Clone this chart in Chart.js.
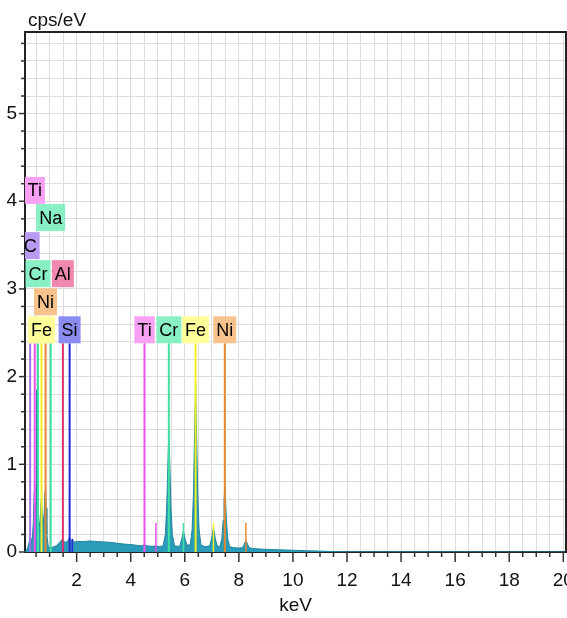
<!DOCTYPE html>
<html>
<head>
<meta charset="utf-8">
<script src="https://cdn.jsdelivr.net/npm/chart.js@4.4.0/dist/chart.umd.min.js"></script>
<style>
  html, body { margin: 0; padding: 0; background: #fff; }
  #wrap { width: 567px; height: 618px; }
</style>
</head>
<body>
<div id="wrap"><canvas id="spektrum"></canvas></div>
<script>
// === DATA SPEKTRUM EDS ===
const energiKeV = [
  0.09, 0.15, 0.20, 0.25, 0.28, 0.31, 0.36, 0.40, 0.43, 0.45, 0.47, 0.50, 0.52, 0.54, 0.57,
  0.60, 0.64, 0.68, 0.70, 0.72, 0.76, 0.80, 0.83, 0.85, 0.87, 0.90, 0.95, 1.00, 1.04, 1.08,
  1.15, 1.25, 1.35, 1.45, 1.50, 1.58, 1.66, 1.74, 1.80, 1.85, 1.92, 2.00, 2.25, 2.50, 2.75,
  3.00, 3.25, 3.50, 3.75, 4.00, 4.25, 4.42, 4.51, 4.60, 4.80, 4.93, 5.05, 5.20, 5.28, 5.33,
  5.37, 5.41, 5.45, 5.49, 5.54, 5.62, 5.75, 5.82, 5.88, 5.95, 6.02, 6.08, 6.20, 6.27, 6.32,
  6.36, 6.40, 6.44, 6.48, 6.53, 6.60, 6.75, 6.92, 6.99, 7.06, 7.13, 7.20, 7.30, 7.37, 7.42,
  7.45, 7.48, 7.51, 7.54, 7.59, 7.66, 7.80, 8.00, 8.14, 8.20, 8.26, 8.32, 8.38, 8.50, 8.75,
  9.00, 9.50, 10.00, 10.50, 11.00, 11.50, 12.00, 14.00, 20.10
];
const intensitasCps = [
  0.00, 0.02, 0.06, 0.12, 0.16, 0.10, 0.15, 0.35, 0.70, 0.78, 0.45, 0.55, 1.85, 0.60, 0.50,
  0.35, 0.30, 0.55, 0.62, 0.45, 0.30, 0.45, 0.70, 0.75, 0.50, 0.20, 0.06, 0.05, 0.07, 0.05,
  0.06, 0.07, 0.10, 0.14, 0.13, 0.11, 0.12, 0.17, 0.12, 0.14, 0.11, 0.12, 0.12, 0.125, 0.12,
  0.115, 0.11, 0.10, 0.09, 0.085, 0.075, 0.07, 0.085, 0.07, 0.065, 0.07, 0.06, 0.07, 0.20, 0.50,
  0.95, 1.38, 0.95, 0.50, 0.20, 0.07, 0.065, 0.07, 0.14, 0.24, 0.14, 0.08, 0.08, 0.25, 0.65,
  1.30, 1.92, 1.30, 0.65, 0.25, 0.08, 0.06, 0.07, 0.15, 0.28, 0.15, 0.07, 0.06, 0.15, 0.36,
  0.58, 0.74, 0.58, 0.36, 0.15, 0.06, 0.05, 0.045, 0.05, 0.09, 0.13, 0.09, 0.05, 0.04, 0.035,
  0.03, 0.025, 0.02, 0.015, 0.01, 0.005, 0.003, 0.002, 0.00
];

// garis elemen utama + posisi label (cps, sisi bawah kotak)
const elemenNama   = ["C", "Ti", "Cr", "Fe", "Ni", "Na", "Al", "Si", "Ti", "Cr", "Fe", "Ni"];
const elemenEnergi = [0.28, 0.45, 0.57, 0.70, 0.85, 1.04, 1.49, 1.74, 4.51, 5.41, 6.40, 7.48];
const elemenLevel  = [3.34, 3.97, 3.02, 2.38, 2.70, 3.66, 3.02, 2.38, 2.38, 2.38, 2.38, 2.38];
const garisTinggi = 2.38;

// garis K-beta (pendek)
const kbetaNama   = ["Si", "Ti", "Cr", "Fe", "Ni"];
const kbetaEnergi = [1.84, 4.93, 5.95, 7.06, 8.26];
const kbetaTinggi = [0.15, 0.33, 0.33, 0.33, 0.33];

// label sumbu
const labelX = [2, 4, 6, 8, 10, 12, 14, 16, 18, 20];
const labelY = [0, 1, 2, 3, 4, 5];

const warnaElemen = {
  C:  { garis: "#a070e8", kotak: "#b89af2" },
  Ti: { garis: "#f050f0", kotak: "#f8a0f4" },
  Cr: { garis: "#40e0a0", kotak: "#88f0c4" },
  Fe: { garis: "#f0f020", kotak: "#ffff99" },
  Ni: { garis: "#e8882c", kotak: "#f8c28c" },
  Na: { garis: "#40e0a0", kotak: "#88f0c4" },
  Al: { garis: "#e0306c", kotak: "#f088b0" },
  Si: { garis: "#2828d8", kotak: "#8c8cf0" }
};

const FONT = '"Liberation Sans", Arial, sans-serif';
const isGenap = (v, daftar) => daftar.some(d => Math.abs(d - v) < 1e-6);

// === DATASET ===
const datasets = [];
elemenNama.forEach((nama, i) => {
  datasets.push({
    data: [{ x: elemenEnergi[i], y: 0 }, { x: elemenEnergi[i], y: garisTinggi }],
    borderColor: warnaElemen[nama].garis,
    borderWidth: 2,
    pointRadius: 0,
    fill: false,
    order: 1
  });
});
kbetaNama.forEach((nama, i) => {
  datasets.push({
    data: [{ x: kbetaEnergi[i], y: 0 }, { x: kbetaEnergi[i], y: kbetaTinggi[i] }],
    borderColor: warnaElemen[nama].garis,
    borderWidth: 1.5,
    pointRadius: 0,
    fill: false,
    order: 1
  });
});
datasets.push({
  data: energiKeV.map((e, i) => ({ x: e, y: intensitasCps[i] })),
  borderColor: "#1f86a0",
  backgroundColor: "#2a9bb8",
  borderWidth: 1,
  pointRadius: 0,
  fill: "origin",
  order: 2
});

// === PLUGIN: kotak label elemen ===
const labelElemen = {
  id: "labelElemen",
  afterDatasetsDraw(chart) {
    const { ctx, chartArea, scales: { x, y } } = chart;
    ctx.save();
    ctx.beginPath();
    ctx.rect(chartArea.left, chartArea.top, chartArea.width, chartArea.height);
    ctx.clip();
    ctx.font = "18px " + FONT;
    ctx.textAlign = "center";
    ctx.textBaseline = "middle";
    elemenNama.forEach((nama, i) => {
      const px = x.getPixelForValue(elemenEnergi[i]);
      const bawah = y.getPixelForValue(elemenLevel[i]);
      const w = ctx.measureText(nama).width + 6;
      const h = 27;
      ctx.fillStyle = warnaElemen[nama].kotak;
      ctx.fillRect(px - w / 2, bawah - h, w, h);
      ctx.fillStyle = "#000";
      ctx.fillText(nama, px, bawah - h / 2 + 1);
    });
    ctx.restore();
  }
};

// === PLUGIN: bingkai, tick, judul cps/eV ===
const bingkai = {
  id: "bingkai",
  afterDraw(chart) {
    const { ctx, chartArea: a, scales: { x, y } } = chart;
    ctx.save();
    ctx.strokeStyle = "#222";
    ctx.lineWidth = 2;
    ctx.beginPath();
    ctx.moveTo(a.left, a.top);
    ctx.lineTo(a.right, a.top);
    ctx.lineTo(a.right, a.bottom);
    ctx.stroke();

    ctx.lineWidth = 1.5;
    ctx.strokeStyle = "#333";
    x.ticks.forEach(t => {
      const px = x.getPixelForValue(t.value);
      const len = isGenap(t.value, labelX) ? 10 : 5;
      ctx.beginPath();
      ctx.moveTo(px, a.bottom);
      ctx.lineTo(px, a.bottom + len);
      ctx.stroke();
    });
    y.ticks.forEach(t => {
      const py = y.getPixelForValue(t.value);
      const len = isGenap(t.value, labelY) ? 6 : 4;
      ctx.beginPath();
      ctx.moveTo(a.left - len, py);
      ctx.lineTo(a.left, py);
      ctx.stroke();
    });

    ctx.fillStyle = "#111";
    ctx.font = "19px " + FONT;
    ctx.textAlign = "left";
    ctx.textBaseline = "alphabetic";
    ctx.fillText("cps/eV", a.left + 3, 26);
    ctx.restore();
  }
};

new Chart(document.getElementById("spektrum"), {
  type: "line",
  data: { datasets: datasets },
  options: {
    responsive: true,
    maintainAspectRatio: false,
    animation: false,
    layout: { padding: { top: 32, right: 1, left: 0, bottom: 0 } },
    plugins: { legend: { display: false }, tooltip: { enabled: false } },
    elements: { line: { tension: 0 } },
    scales: {
      x: {
        type: "linear",
        min: 0.09,
        max: 20.1,
        afterFit(s) { s.height = 66; s.paddingLeft = 0; s.paddingRight = 0; },
        grid: { color: "#dcdcdc", lineWidth: 1, drawTicks: false },
        border: { color: "#222", width: 2 },
        ticks: {
          stepSize: 0.5,
          includeBounds: false,
          autoSkip: false,
          maxRotation: 0,
          padding: 17,
          color: "#111",
          font: { size: 19, family: FONT },
          callback: v => (isGenap(v, labelX) ? String(Math.round(v)) : "")
        },
        title: {
          display: true,
          text: "keV",
          color: "#111",
          font: { size: 19, family: FONT },
          padding: { top: 0, bottom: 1 }
        }
      },
      y: {
        min: 0,
        max: 5.93,
        afterFit(s) { s.width = 25; s.paddingTop = 0; s.paddingBottom = 0; },
        grid: { color: "#dcdcdc", lineWidth: 1, drawTicks: false },
        border: { color: "#222", width: 2 },
        ticks: {
          stepSize: 0.2,
          includeBounds: false,
          autoSkip: false,
          padding: 8,
          color: "#111",
          font: { size: 19, family: FONT },
          callback: v => (isGenap(v, labelY) ? String(Math.round(v)) : "")
        }
      }
    }
  },
  plugins: [labelElemen, bingkai]
});
</script>
</body>
</html>
